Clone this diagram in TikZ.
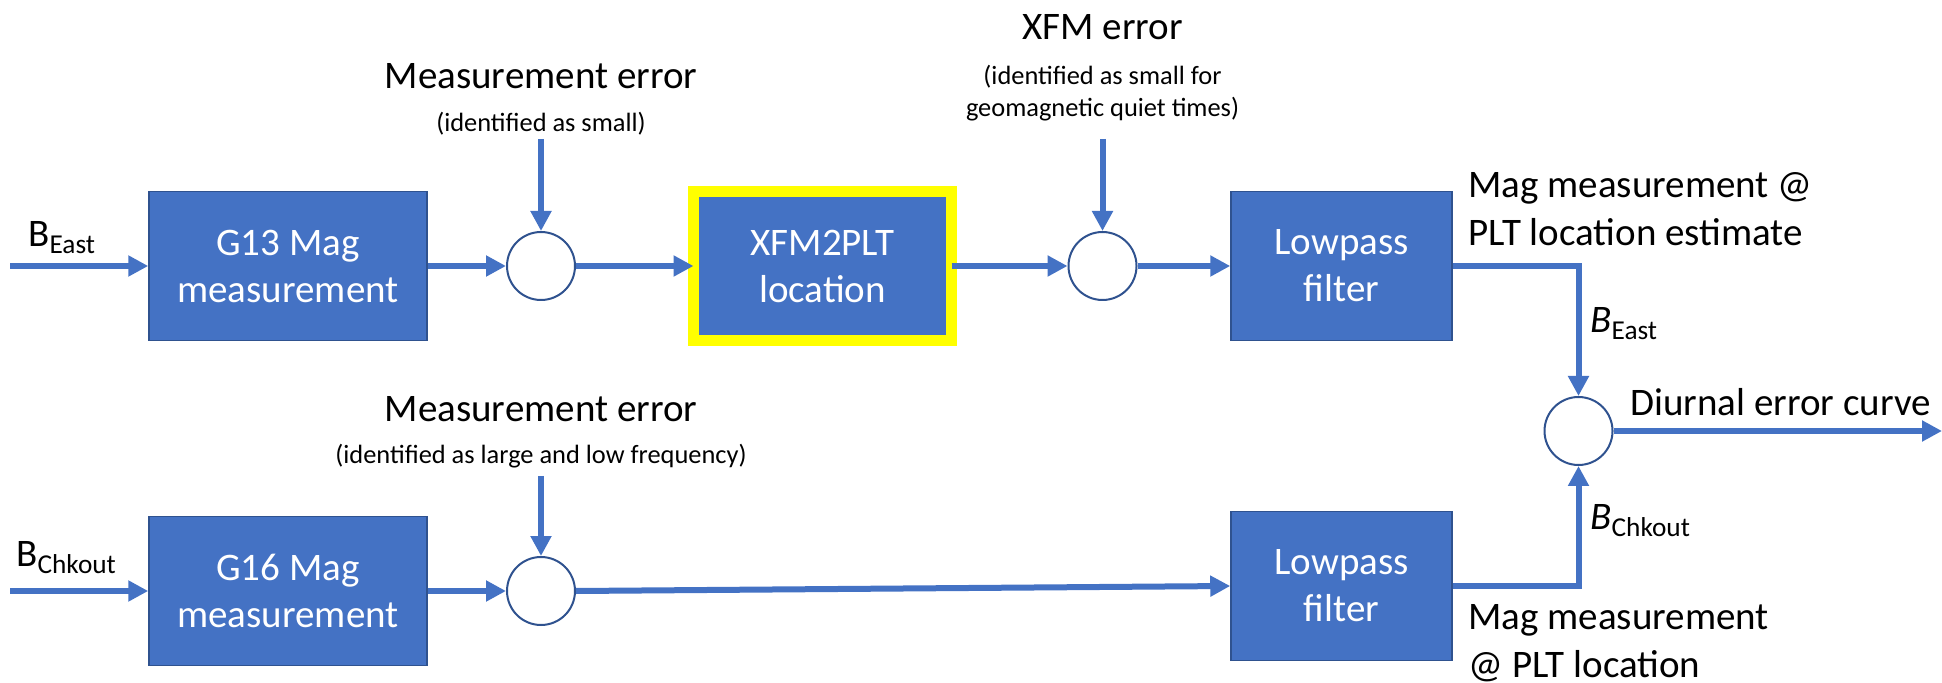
\documentclass[tikz,border=0pt]{standalone}
\usepackage{fontspec}
\setmainfont{Carlito}
\usetikzlibrary{arrows.meta}
\definecolor{boxblue}{HTML}{4472C4}
\definecolor{edgeblue}{HTML}{2F528F}
\definecolor{hiyellow}{HTML}{FFFF00}
\newcommand\bigfnt{\fontsize{19.5}{23.5}\selectfont}
\newcommand\smallfnt{\fontsize{13.2}{15.7}\selectfont}
\tikzset{
  blk/.style={draw=edgeblue, line width=0.75pt, fill=boxblue, text=white, minimum height=74.5pt, inner sep=0pt, align=center, font=\bigfnt},
  sumnode/.style={circle, draw=edgeblue, line width=1pt, fill=white, minimum size=34pt, inner sep=0pt},
  flow/.style={draw=boxblue, line width=3pt, -{Triangle[length=10pt,width=10pt]}},
  lbl/.style={font=\bigfnt, inner sep=0pt},
  note/.style={font=\smallfnt, inner sep=0pt, align=center},
}
\begin{document}
\begin{tikzpicture}[x=0.5pt,y=-0.5pt]
\useasboundingbox (0,0) rectangle (1942,683);
% blocks
\node[blk, minimum width=139pt] (g13) at (288,266) {G13 Mag\\measurement};
\node[blk, minimum width=129pt, draw=hiyellow, line width=5.5pt, outer sep=0pt] (xfm) at (822.5,266) {XFM2PLT\\location};
\node[blk, minimum width=110.5pt] (lp1) at (1341.5,266) {Lowpass\\filter};
\node[blk, minimum width=139pt] (g16) at (288,591) {G16 Mag\\measurement};
\node[blk, minimum width=110.5pt] (lp2) at (1341.5,586) {Lowpass\\filter};
% summing junctions
\node[sumnode] (c1) at (541,266) {};
\node[sumnode] (c2) at (1102.5,266) {};
\node[sumnode] (c3) at (1578.5,431) {};
\node[sumnode] (c4) at (541,591) {};
% free ends
\coordinate (in1) at (10,266);
\coordinate (in2) at (10,591);
\coordinate (e1) at (541,139);
\coordinate (e2) at (1102.5,139);
\coordinate (e4) at (541,476);
\coordinate (out) at (1942,431);
% connectors
\draw[flow] (in1) -- (g13.west);
\draw[flow] (g13.east) -- (c1.west);
\draw[flow] (c1.east) -- (xfm.west);
\draw[flow] (xfm.east) -- (c2.west);
\draw[flow] (c2.east) -- (lp1.west);
\draw[flow] (lp1.east) -| (c3.north);
\draw[flow] (in2) -- (g16.west);
\draw[flow] (g16.east) -- (c4.west);
\draw[flow] (c4.east) -- (lp2.west);
\draw[flow] (lp2.east) -| (c3.south);
\draw[flow] (c3.east) -- (out);
\draw[flow] (e1) -- (c1.north);
\draw[flow] (e2) -- (c2.north);
\draw[flow] (e4) -- (c4.north);
% labels
\node[lbl, anchor=base west] (bin1) at (28,247) {B\textsubscript{East}};
\node[lbl, anchor=base west] (bin2) at (16,567) {B\textsubscript{Chkout}};
\node[lbl] (me1) at (541,76) {Measurement error};
\node[note] (me1n) at (541,124) {(identified as small)};
\node[lbl] (xe) at (1102.5,27) {XFM error};
\node[note] (xen) at (1102.5,93) {(identified as small for\\geomagnetic quiet times)};
\node[lbl] (me2) at (541,409) {Measurement error};
\node[note] (me2n) at (541,456) {(identified as large and low frequency)};
\node[lbl, anchor=base west] (r1a) at (1468,198) {Mag measurement @};
\node[lbl, anchor=base west] (r1b) at (1468,246) {PLT location estimate};
\node[lbl, anchor=base west] (r2a) at (1468,629) {Mag measurement};
\node[lbl, anchor=base west] (r2b) at (1468,677) {@ PLT location};
\node[lbl, anchor=base west] (beast) at (1590,333) {\textit{B}\textsubscript{East}};
\node[lbl, anchor=base west] (bchk) at (1590,530) {\textit{B}\textsubscript{Chkout}};
\node[lbl, anchor=base west] (diu) at (1630,416) {Diurnal error curve};
\end{tikzpicture}
\end{document}
